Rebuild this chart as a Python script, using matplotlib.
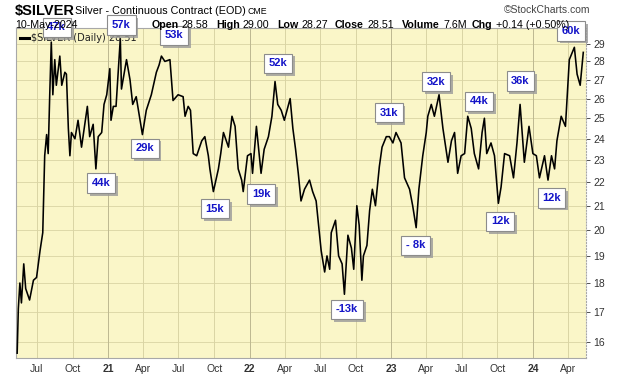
import numpy as np
import pandas as pd
import matplotlib
matplotlib.use("Agg")
import matplotlib.pyplot as plt
import matplotlib.patheffects as pe
from matplotlib.ticker import NullFormatter, NullLocator

plt.rcParams['font.family'] = ['Liberation Sans', 'DejaVu Sans']

# --- data (Silver continuous contract, daily) ---
dates = [
    "2020-05-11", "2020-05-14", "2020-05-18", "2020-05-22", "2020-05-28", "2020-06-02",
    "2020-06-12", "2020-06-22", "2020-06-30", "2020-07-09", "2020-07-16", "2020-07-21",
    "2020-07-26", "2020-07-30", "2020-08-03", "2020-08-07", "2020-08-11", "2020-08-16",
    "2020-08-20", "2020-08-29", "2020-09-03", "2020-09-11", "2020-09-15", "2020-09-20",
    "2020-09-24", "2020-09-28", "2020-10-07", "2020-10-15", "2020-10-24", "2020-11-08",
    "2020-11-14", "2020-11-23", "2020-11-30", "2020-12-06", "2020-12-15", "2020-12-21",
    "2020-12-28", "2021-01-05", "2021-01-08", "2021-01-14", "2021-01-21", "2021-02-01",
    "2021-02-04", "2021-02-17", "2021-02-26", "2021-03-05", "2021-03-14", "2021-03-30",
    "2021-04-09", "2021-04-22", "2021-05-05", "2021-05-12", "2021-05-18", "2021-05-27",
    "2021-06-09", "2021-06-17", "2021-06-30", "2021-07-13", "2021-07-18", "2021-07-26",
    "2021-08-01", "2021-08-08", "2021-08-17", "2021-08-30", "2021-09-07", "2021-09-16",
    "2021-09-20", "2021-09-29", "2021-10-12", "2021-10-18", "2021-10-25", "2021-11-07",
    "2021-11-16", "2021-11-24", "2021-12-02", "2021-12-11", "2021-12-15", "2021-12-26",
    "2022-01-04", "2022-01-08", "2022-01-18", "2022-01-30", "2022-02-07", "2022-02-18",
    "2022-02-27", "2022-03-07", "2022-03-14", "2022-03-23", "2022-03-31", "2022-04-15",
    "2022-04-22", "2022-04-29", "2022-05-06", "2022-05-13", "2022-05-22", "2022-06-04",
    "2022-06-12", "2022-06-21", "2022-07-04", "2022-07-13", "2022-07-19", "2022-07-26",
    "2022-07-30", "2022-08-10", "2022-08-18", "2022-08-27", "2022-09-02", "2022-09-11",
    "2022-09-20", "2022-09-26", "2022-10-04", "2022-10-10", "2022-10-17", "2022-10-21",
    "2022-10-30", "2022-11-06", "2022-11-13", "2022-11-21", "2022-12-01", "2022-12-08",
    "2022-12-19", "2022-12-27", "2023-01-05", "2023-01-13", "2023-01-26", "2023-02-04",
    "2023-02-17", "2023-02-25", "2023-03-06", "2023-03-13", "2023-03-23", "2023-04-01",
    "2023-04-05", "2023-04-14", "2023-04-22", "2023-05-04", "2023-05-14", "2023-05-27",
    "2023-06-05", "2023-06-13", "2023-06-21", "2023-06-30", "2023-07-09", "2023-07-17",
    "2023-07-26", "2023-08-03", "2023-08-14", "2023-08-23", "2023-08-29", "2023-09-04",
    "2023-09-15", "2023-09-24", "2023-10-04", "2023-10-11", "2023-10-20", "2023-11-02",
    "2023-11-12", "2023-11-21", "2023-11-29", "2023-12-10", "2023-12-22", "2024-01-01",
    "2024-01-10", "2024-01-18", "2024-01-31", "2024-02-09", "2024-02-18", "2024-02-26",
    "2024-03-03", "2024-03-14", "2024-03-25", "2024-04-04", "2024-04-17", "2024-04-24",
    "2024-05-02", "2024-05-10",
]
prices = [
    15.65, 17.1, 18.0, 17.3, 18.7, 17.8,
    17.4, 18.1, 18.2, 19.2, 19.9, 23.2,
    24.2, 23.3, 26.2, 29.1, 26.2, 28.1,
    26.7, 28.3, 26.7, 27.4, 27.3, 24.5,
    23.2, 24.3, 24.0, 24.9, 23.6, 25.6,
    24.1, 24.7, 22.6, 24.1, 24.3, 25.7,
    26.2, 27.6, 24.9, 25.6, 25.6, 29.3,
    26.5, 28.1, 27.0, 25.7, 26.1, 24.2,
    25.4, 26.2, 27.4, 27.8, 28.3, 28.0,
    28.1, 25.9, 26.2, 26.1, 25.1, 25.6,
    25.4, 23.3, 23.2, 23.9, 24.1, 23.2,
    22.6, 21.6, 22.6, 23.3, 24.3, 23.6,
    25.1, 24.6, 22.6, 22.1, 21.6, 23.2,
    23.3, 22.4, 24.6, 22.4, 23.5, 24.1,
    25.1, 26.9, 25.7, 25.4, 24.9, 26.0,
    24.5, 23.5, 22.4, 21.2, 21.7, 22.1,
    21.6, 21.2, 19.2, 18.4, 19.0, 18.5,
    19.9, 20.4, 19.0, 18.7, 17.6, 19.8,
    19.3, 18.5, 21.0, 20.2, 18.1, 19.0,
    19.4, 20.8, 21.7, 21.0, 22.7, 23.6,
    24.1, 24.1, 23.8, 24.3, 23.8, 22.2,
    21.7, 21.0, 20.1, 21.7, 23.2, 24.3,
    25.1, 25.7, 25.1, 26.2, 24.5, 22.9,
    23.9, 24.3, 22.4, 23.2, 23.3, 25.1,
    24.5, 23.3, 22.6, 24.3, 25.0, 23.3,
    23.8, 23.2, 21.1, 21.8, 23.3, 23.2,
    22.2, 23.8, 25.7, 22.9, 24.6, 23.3,
    23.2, 22.2, 23.2, 22.1, 23.2, 22.6,
    23.9, 25.1, 24.6, 28.1, 28.8, 27.3,
    26.7, 28.51,
]

# net position annotations (text, date, price level of box centre)
note_text = ["47k", "57k", "53k", "44k", "29k", "15k", "19k", "52k", "31k",
             "-13k", "- 8k", "32k", "44k", "36k", "12k", "12k", "60k"]
note_date = ["2020-08-21", "2021-02-04", "2021-06-19", "2020-12-14", "2021-04-05",
             "2021-10-03", "2022-01-30", "2022-03-14", "2022-12-25", "2022-09-09",
             "2023-03-05", "2023-04-27", "2023-08-16", "2023-11-30", "2023-10-09",
             "2024-02-18", "2024-04-08"]
note_price = [29.96, 30.1, 29.5, 21.97, 23.55, 20.88, 21.49, 27.9, 25.28, 17.08,
              19.41, 26.9, 25.86, 26.92, 20.35, 21.33, 29.75]

yticks = list(range(16, 30))
quarter_ticks = ["2020-07-01", "2020-10-01", "2021-01-01", "2021-04-01", "2021-07-01",
                 "2021-10-01", "2022-01-01", "2022-04-01", "2022-07-01", "2022-10-01",
                 "2023-01-01", "2023-04-01", "2023-07-01", "2023-10-01", "2024-01-01",
                 "2024-04-01"]
quarter_labels = ["Jul", "Oct", "21", "Apr", "Jul", "Oct", "22", "Apr", "Jul", "Oct",
                  "23", "Apr", "Jul", "Oct", "24", "Apr"]

W, H = 620, 376
fig = plt.figure(figsize=(W / 100, H / 100), dpi=100)
fig.patch.set_facecolor("white")
ax = fig.add_axes([16 / W, 1 - 358 / H, 570 / W, 330 / H])
ax.set_facecolor("#faf6c8")

x = pd.to_datetime(dates)
ax.plot(x, prices, color="black", lw=1.15, zorder=3)

ax.set_yscale("log")
ax.set_ylim(15.5, 29.93)
ax.set_xlim(pd.Timestamp("2020-05-08"), pd.Timestamp("2024-05-17"))

ax.yaxis.tick_right()
ax.yaxis.set_minor_locator(NullLocator())
ax.yaxis.set_minor_formatter(NullFormatter())
ax.set_yticks(yticks)
ax.set_yticklabels([str(v) for v in yticks])
qt = pd.to_datetime(quarter_ticks)
ax.set_xticks(qt)
ax.set_xticklabels(quarter_labels)
for lab in ax.get_xticklabels():
    if lab.get_text().isdigit():
        lab.set_fontweight("bold")
ax.tick_params(axis="both", labelsize=7.5, colors="#333333", length=3, width=0.6, pad=2)
ax.tick_params(axis="x", length=0, pad=4)

for v in yticks:
    ax.axhline(v, color="#d9d4a4", lw=0.6, zorder=1)
for d, lab in zip(qt, quarter_labels):
    ax.axvline(d, color="#bdb891" if lab.isdigit() else "#d9d4a4", lw=0.7, zorder=1)

for s in ax.spines.values():
    s.set_color("#a8a8a8")
    s.set_linewidth(0.8)
ax.spines["right"].set_linestyle(":")

# legend line (drawn under the boxes)
ax.plot([0.007, 0.022], [0.97, 0.97], transform=ax.transAxes, color="black", lw=2.2,
        zorder=4, clip_on=False)
ax.text(0.027, 0.97, "$SILVER (Daily) 28.51", transform=ax.transAxes, fontsize=7,
        family=["DejaVu Sans"], va="center", ha="left", color="#222222", zorder=4)

# boxed labels
for txt, d, p in zip(note_text, note_date, note_price):
    t = ax.text(pd.Timestamp(d), p, txt, ha="center", va="center", fontsize=8,
                fontweight="bold", color="#1414c8", zorder=6, clip_on=False,
                bbox=dict(boxstyle="square,pad=0.42", fc="white", ec="#8c8c8c", lw=0.8))
    t.get_bbox_patch().set_path_effects([
        pe.SimplePatchShadow(offset=(2, -2), shadow_rgbFace="#9a9a9a", alpha=0.8),
        pe.Normal()])

# header
def ft(px, py, s, **kw):
    fig.text(px / W, 1 - py / H, s, va="center", **kw)

ft(15, 11, "$SILVER", fontsize=10.5, fontweight="bold")
ft(75, 11, "Silver - Continuous Contract (EOD)", fontsize=7.8)
ft(248, 11.5, "CME", fontsize=6.3)
ft(590, 10, "\u00a9StockCharts.com", fontsize=7.5, color="#444444", ha="right")

row = [(15, "10-May-2024", False), (152, "Open", True), (182, "28.58", False),
       (216, "High", True), (243, "29.00", False), (277, "Low", True),
       (301, "28.27", False), (335, "Close", True), (367, "28.51", False),
       (402, "Volume", True), (443, "7.6M", False), (472, "Chg", True),
       (496, "+0.14 (+0.50%)", False)]
for px, s, b in row:
    ft(px, 24.5, s, fontsize=7.7, fontweight="bold" if b else "normal")

fig.savefig("out.png", dpi=100)
